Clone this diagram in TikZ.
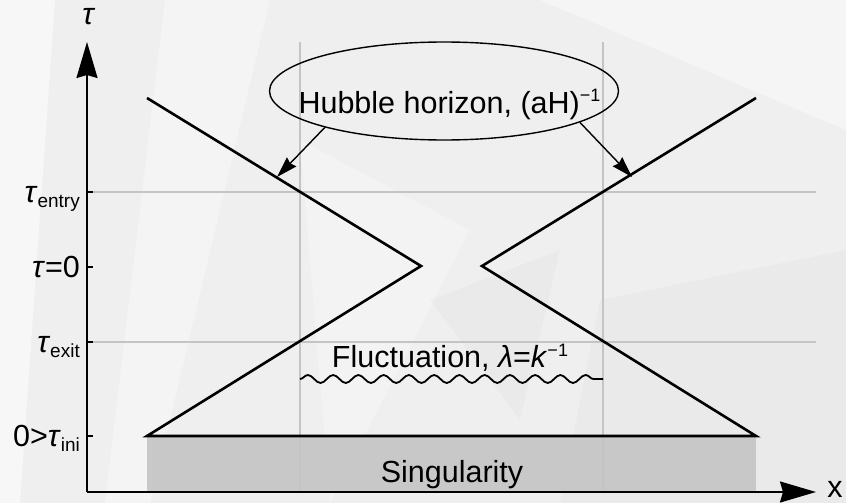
\documentclass[tikz,border=0pt]{standalone}
\usepackage{fontspec}
\setmainfont{Liberation Sans}
\usetikzlibrary{shapes.geometric, arrows.meta, positioning, decorations.pathmorphing}
\definecolor{bggray}{HTML}{EFEFEF}
\definecolor{gridgray}{HTML}{C4C4C4}
\definecolor{singgray}{HTML}{C8C8C8}
\newcommand{\tsub}[1]{\raisebox{-5pt}{\fontsize{19}{19}\selectfont #1}}
\newcommand{\tsup}[1]{\raisebox{11pt}{\fontsize{18}{18}\selectfont #1}}

\begin{document}
\begin{tikzpicture}[x=1pt, y=-1pt,
  every node/.style={font=\fontsize{30.5}{33}\selectfont, inner sep=0pt},
  axis/.style={line width=2pt, -{Stealth[length=36pt, width=21pt, inset=3pt]}},
  cone/.style={line width=2.6pt, line join=miter},
  gridline/.style={gridgray, line width=1.5pt},
  axistick/.style={line width=2pt},
  pointer/.style={line width=1.4pt, -{Stealth[length=21pt, width=13pt, inset=2pt]}},
  horizon/.style={ellipse, draw, line width=1.4pt, minimum width=349pt, minimum height=98pt},
  wave/.style={line width=1.8pt, decorate, decoration={snake, amplitude=4pt, segment length=25.25pt}},
  ticklabel/.style={anchor=base east}]
  \useasboundingbox (0,0) rectangle (846,503);

  % background
  \fill[bggray] (0,0) rectangle (846,503);
  \fill[white, opacity=.5] (0,0) -- (55,0) -- (20,503) -- (0,503) -- cycle;
  \fill[white, opacity=.35] (165,0) -- (270,0) -- (150,503) -- (105,503) -- cycle;
  \fill[white, opacity=.4] (540,0) -- (846,0) -- (846,130) -- cycle;
  \fill[white, opacity=.25] (300,140) -- (470,230) -- (330,503) -- cycle;
  \fill[black, opacity=.02] (600,300) -- (846,250) -- (846,503) -- (560,503) -- cycle;
  \fill[black, opacity=.02] (430,300) -- (560,250) -- (520,420) -- cycle;

  % axes
  \coordinate (O) at (87,492);
  \coordinate (ytip) at (87,42);
  \coordinate (xtip) at (816,492);
  \node[anchor=base] (tau) at (88,25) {\itshape τ};
  \node[anchor=base] (xlab) at (835,497) {x};

  % singularity
  \fill[singgray] (147,436) rectangle (756,492);
  \node[anchor=base] (sing) at (452,482) {Singularity};

  % grid lines
  \foreach \gx in {300,603}
    \draw[gridline] (\gx,42) -- (\gx,492);
  \foreach \gy in {192,342}
    \draw[gridline] (93,\gy) -- (816,\gy);

  \draw[axis] (O) -- (ytip);
  \draw[axis] (O) -- (xtip);
  \foreach \ty in {192,267,342,436}
    \draw[axistick] (87,\ty) -- (93,\ty);

  \node[ticklabel] (entry) at (80,202.5) {\textit{τ}\tsub{entry}};
  \node[ticklabel] (zero) at (80,277.5) {\textit{τ}=0};
  \node[ticklabel] (exit) at (80,352.5) {\textit{τ}\tsub{exit}};
  \node[ticklabel] (ini) at (80,446.5) {0>\textit{τ}\tsub{ini}};

  % horizon
  \coordinate (lt) at (147,98);
  \coordinate (lv) at (421,266);
  \coordinate (lb) at (147,436);
  \coordinate (rt) at (756,98);
  \coordinate (rv) at (482,266);
  \coordinate (rb) at (756,436);
  \draw[cone] (lt) -- (lv) -- (lb) -- (rb) -- (rv) -- (rt);

  \node[horizon] (hh) at (444,91) {};
  \node[anchor=base] (hhtext) at (449.5,113) {Hubble horizon, (aH)\tsup{−1}};
  \coordinate (ha) at (277,177);
  \coordinate (hb) at (632,177);
  \draw[pointer] (hh.197) -- (ha);
  \draw[pointer] (hh.-13) -- (hb);

  % fluctuation
  \node[anchor=base] (fluct) at (450,367) {Fluctuation, \textit{λ}=\textit{k}\tsup{−1}};
  \coordinate (wa) at (300,379);
  \coordinate (wb) at (603,379);
  \draw[wave] (wa) -- (wb);
\end{tikzpicture}
\end{document}
